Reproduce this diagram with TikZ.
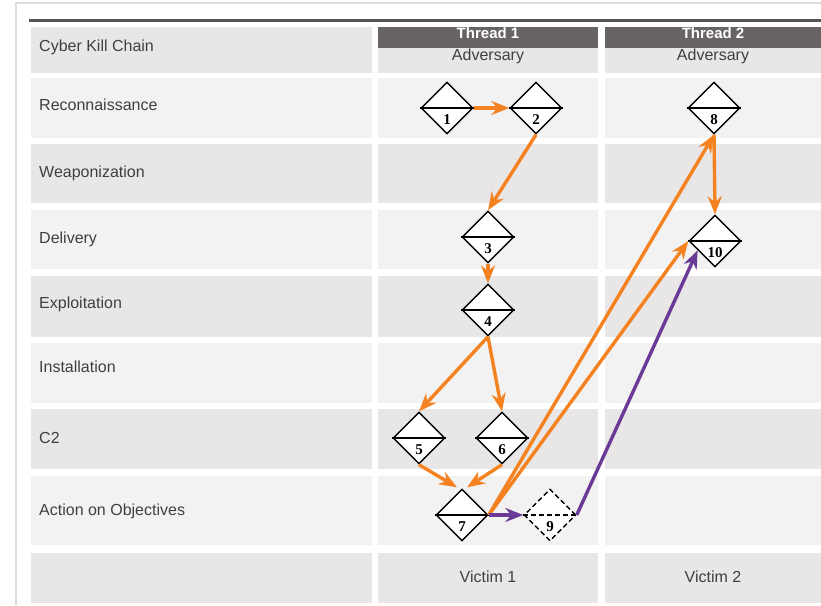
\documentclass[tikz,border=0pt]{standalone}
\usepackage{fontspec}
\setmainfont{Liberation Sans}
\newfontfamily\numfont{Liberation Serif}
\usetikzlibrary{shapes.geometric,arrows.meta,calc}

\definecolor{rowlight}{HTML}{F2F2F2}
\definecolor{rowdark}{HTML}{E8E6E7}
\definecolor{headbar}{HTML}{686465}
\definecolor{topline}{HTML}{555555}
\definecolor{framegray}{HTML}{DCDCDC}
\definecolor{labelgray}{HTML}{404040}
\definecolor{killorange}{HTML}{F58220}
\definecolor{killpurple}{HTML}{6B3A97}

\def \dsize {52pt}
\def \numdrop {12}

\tikzset{
  event/.style={draw, diamond, aspect=1, minimum width=\dsize, minimum height=\dsize,
    inner sep=0pt, fill=white, line width=1.4pt},
  divider/.style={line width=1.4pt},
  num/.style={font=\numfont\bfseries\fontsize{15}{15}\selectfont, inner sep=0pt},
  rowlabel/.style={anchor=west, text=labelgray, inner sep=0pt, text height=11.5pt, text depth=0pt},
  celltext/.style={text=labelgray, inner sep=0pt, text height=11.5pt, text depth=0pt},
  flow/.style={killorange, line width=3.4pt, -{Stealth[length=18pt, width=14pt, inset=6pt]}},
  pivot/.style={killpurple, line width=3.4pt, -{Stealth[length=18pt, width=14pt, inset=6pt]}}
}

\begin{document}
\begin{tikzpicture}[x=1pt, y=-1pt, font=\fontsize{16}{18}\selectfont]
\useasboundingbox (0,0) rectangle (821,605);

% frame
\draw[framegray, line width=1.5pt] (16,605) -- (16,3) -- (821,3);
\draw[topline, line width=3pt] (29,20) -- (821,20);

% rows
\foreach \top/\bot/\shade in {27/73/rowdark, 78/138/rowlight, 144/203/rowdark,
    210/269/rowlight, 276/337/rowdark, 343/403/rowlight, 409/469/rowdark,
    476/545/rowlight, 553/603/rowdark}{
  \fill[\shade] (31,\top) rectangle (372,\bot);
  \fill[\shade] (378,\top) rectangle (598,\bot);
  \fill[\shade] (605,\top) rectangle (821,\bot);
}
\fill[headbar] (378,27) rectangle (598,48);
\fill[headbar] (605,27) rectangle (821,48);

% labels
\node[rowlabel] (lchain) at (39,46) {Cyber Kill Chain};
\node[rowlabel] (lrecon) at (39,105) {Reconnaissance};
\node[rowlabel] (lweapon) at (39,172) {Weaponization};
\node[rowlabel] (ldeliver) at (39,238) {Delivery};
\node[rowlabel] (lexploit) at (39,303) {Exploitation};
\node[rowlabel] (linstall) at (39,367) {Installation};
\node[rowlabel] (lctwo) at (39,438) {C2};
\node[rowlabel] (laction) at (39,510) {Action on Objectives};

\node[celltext, text=white, font=\bfseries\fontsize{15}{16}\selectfont] (thread1) at (488,33) {Thread 1};
\node[celltext, text=white, font=\bfseries\fontsize{15}{16}\selectfont] (thread2) at (713,33) {Thread 2};
\node[celltext] (adv1) at (488,55) {Adversary};
\node[celltext] (adv2) at (713,55) {Adversary};
\node[celltext] (vic1) at (488,577) {Victim 1};
\node[celltext] (vic2) at (713,577) {Victim 2};

% events
\foreach \n/\x/\y in {1/447/108, 2/536/108, 3/488/237, 4/488/310, 5/419/438,
    6/502/438, 7/462/515, 8/714/108, 10/715/241}{
  \node[event] (d\n) at (\x,\y) {};
  \draw[divider] (d\n.west) -- (d\n.east);
  \node[num] (n\n) at ($(d\n.center)+(0,\numdrop)$) {\n};
}
\node[event, dash pattern=on 5pt off 3pt] (d9) at (550,515) {};
\draw[divider, dash pattern=on 5pt off 3pt] (d9.west) -- (d9.east);
\node[num] (n9) at ($(d9.center)+(0,\numdrop)$) {9};

\coordinate (d7left) at ($(d7.north)+(-5,-1)$);
\coordinate (d7right) at ($(d7.north)+(5,-1)$);
\coordinate (d10low) at ($(d10.west)!0.35!(d10.south)$);

% connectors
\draw[flow] (d1.east) -- (d2.west);
\draw[flow] (d2.south) -- (d3.north);
\draw[flow] (d3.south) -- (d4.north);
\draw[flow] (d4.south) -- (d5.north);
\draw[flow] (d4.south) -- (d6.north);
\draw[flow] (d5.south) -- (d7left);
\draw[flow] (d6.south) -- (d7right);
\draw[flow] (d7.east) -- (d8.south);
\draw[flow] (d7.east) -- (d10.west);
\draw[flow] (d8.south) -- (d10.north);
\draw[pivot] (d7.east) -- (d9.west);
\draw[pivot] (d9.east) -- (d10low);
\end{tikzpicture}
\end{document}
